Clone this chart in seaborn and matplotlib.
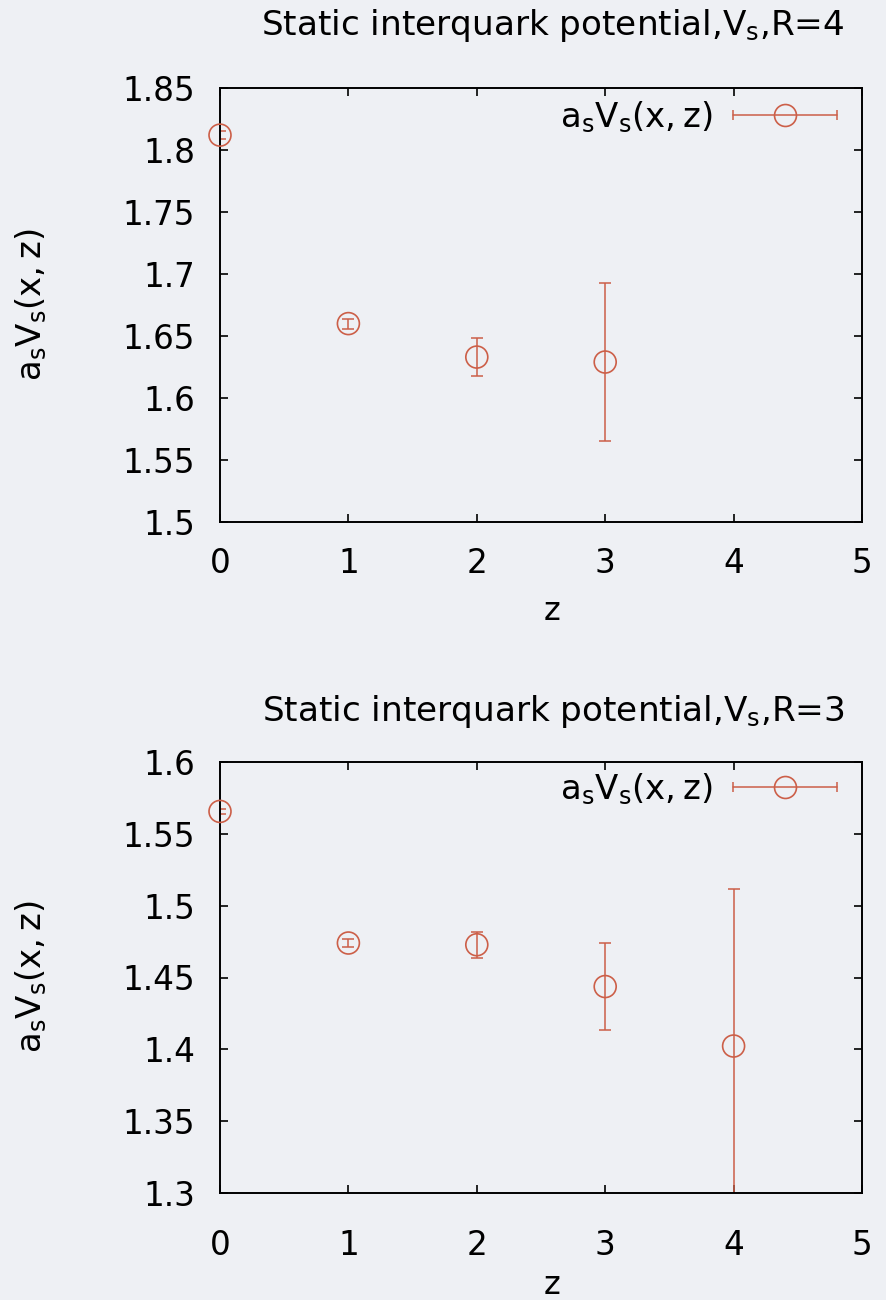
import matplotlib
matplotlib.use("Agg")
import matplotlib.pyplot as plt
import seaborn as sns
from matplotlib.lines import Line2D
from matplotlib.legend_handler import HandlerLine2D, HandlerTuple

# Static potential a_s V_s(x, z) versus z, for R = 4 and R = 3
z_r4 = [0, 1, 2, 3]
v_r4 = [1.812, 1.660, 1.633, 1.629]
err_r4 = [0.003, 0.004, 0.015, 0.064]

z_r3 = [0, 1, 2, 3, 4]
v_r3 = [1.5656, 1.474, 1.4728, 1.4437, 1.4023]
err_r3 = [0.002, 0.003, 0.009, 0.030, 0.109]

xticks = [0, 1, 2, 3, 4, 5]
yticks_r4 = [1.5, 1.55, 1.6, 1.65, 1.7, 1.75, 1.8, 1.85]
yticklabels_r4 = ["1.5", "1.55", "1.6", "1.65", "1.7", "1.75", "1.8", "1.85"]
yticks_r3 = [1.3, 1.35, 1.4, 1.45, 1.5, 1.55, 1.6]
yticklabels_r3 = ["1.3", "1.35", "1.4", "1.45", "1.5", "1.55", "1.6"]

titles = [r"Static interquark potential,V$_\mathregular{s}$,R=4",
          r"Static interquark potential,V$_\mathregular{s}$,R=3"]
ylabel = r"$\mathregular{a_sV_s(x,z)}$"
legend_label = r"$\mathregular{a_sV_s(x,z)}$"

RED = "#cc5f48"
BG = "#eef0f4"
FS_TICK = 23.5
FS_TITLE = 24.7
FS_LABEL = 24.5
FS_Z = 23

sns.set_theme(style="ticks")
plt.rcParams["font.family"] = ["DejaVu Sans"]
plt.rcParams["mathtext.fontset"] = "dejavusans"
plt.rcParams["text.color"] = "black"
plt.rcParams["xtick.labelcolor"] = "black"
plt.rcParams["ytick.labelcolor"] = "black"
plt.rcParams["axes.labelcolor"] = "black"

W, H = 887, 1300
fig = plt.figure(figsize=(W / 100, H / 100), dpi=100, facecolor=BG)


def px_axes(left, top, right, bottom):
    return fig.add_axes([left / W, 1 - bottom / H, (right - left) / W, (bottom - top) / H])


panels = [
    dict(box=(220, 88, 862, 522), z=z_r4, v=v_r4, e=err_r4, yt=yticks_r4, ytl=yticklabels_r4,
         ylim=(1.5, 1.85), title_y=35, xpad=18, zlab_base=620, ylab_y=305, leg_y=117),
    dict(box=(220, 762, 862, 1193), z=z_r3, v=v_r3, e=err_r3, yt=yticks_r3, ytl=yticklabels_r3,
         ylim=(1.3, 1.6), title_y=721, xpad=26, zlab_base=1294, ylab_y=977, leg_y=789),
]

for i, p in enumerate(panels):
    l, t, r, b = p["box"]
    ax = px_axes(l, t, r, b)
    ax.set_facecolor(BG)

    ax.errorbar(p["z"], p["v"], yerr=p["e"], fmt="none", ecolor=RED,
                elinewidth=1.1, capsize=4.5, capthick=1.1, zorder=2)
    sns.scatterplot(x=p["z"], y=p["v"], ax=ax, marker="o", s=250, color=RED,
                    facecolor="none", edgecolor=RED, linewidth=1.2, zorder=3,
                    legend=False, clip_on=False)

    ax.set_xlim(0, 5)
    ax.set_ylim(*p["ylim"])
    ax.set_xticks(xticks)
    ax.set_xticklabels([str(x) for x in xticks])
    ax.set_yticks(p["yt"])
    ax.set_yticklabels(p["ytl"])
    ax.tick_params(axis="both", direction="in", length=6, width=1.2, color="black",
                   labelsize=FS_TICK, labelcolor="black", top=True, right=True)
    ax.tick_params(axis="x", pad=p["xpad"])
    ax.tick_params(axis="y", pad=18)
    for s in ax.spines.values():
        s.set_visible(True)
        s.set_color("black")
        s.set_linewidth(1.4)

    ax.set_xlabel("z", fontsize=FS_Z, color="black")
    ax.xaxis.label.set_va("baseline")
    ax.xaxis.set_label_coords((552 - l) / (r - l), -(p["zlab_base"] - b) / (b - t))
    ax.set_ylabel("")

    fig.text(553 / W, 1 - p["title_y"] / H, titles[i], ha="center", va="baseline",
             fontsize=FS_TITLE, color="black")
    fig.text(31 / W, 1 - p["ylab_y"] / H, ylabel, rotation=90, ha="center",
             va="center", fontsize=FS_LABEL, color="black")

    line_h = Line2D([], [], color=RED, lw=1.1)
    cap_h = Line2D([], [], color=RED, lw=0, marker="|", markersize=6.5, markeredgewidth=1.1)
    circ_h = Line2D([], [], color=RED, lw=0, marker="o", markersize=15.8,
                    markerfacecolor="none", markeredgecolor=RED, markeredgewidth=1.2)
    ax.legend([(line_h, cap_h, circ_h)], [legend_label],
              handler_map={tuple: HandlerTuple(ndivide=1, pad=0),
                           cap_h: HandlerLine2D(numpoints=2, marker_pad=0)},
              numpoints=1, loc="center right",
              bbox_to_anchor=((837 - l) / (r - l), 1 - (p["leg_y"] - t) / (b - t)),
              frameon=False, fontsize=FS_LABEL, handlelength=3.05, handletextpad=0.6,
              borderpad=0, borderaxespad=0, markerfirst=False)

fig.savefig("out.png", dpi=100, facecolor=BG)
